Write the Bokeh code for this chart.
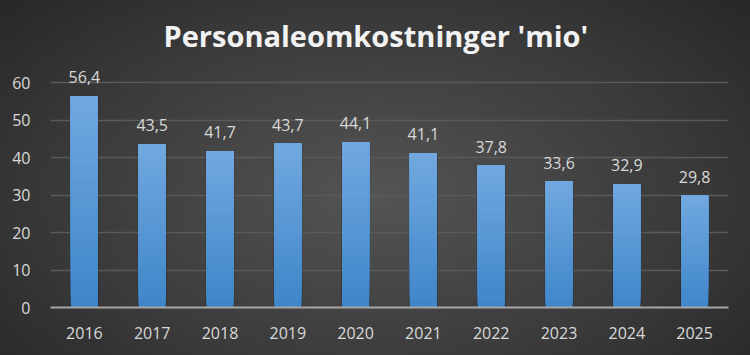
from bokeh.plotting import figure
from bokeh.models import (FactorRange, Range1d, FixedTicker, ColumnDataSource,
                          InlineStyleSheet, LabelSet)
from bokeh.core.properties import value
from bokeh.embed import file_html
from bokeh.resources import INLINE

years = ["2016", "2017", "2018", "2019", "2020", "2021", "2022", "2023", "2024", "2025"]
values = [56.4, 43.5, 41.7, 43.7, 44.1, 41.1, 37.8, 33.6, 32.9, 29.8]
labels = ["56,4", "43,5", "41,7", "43,7", "44,1", "41,1", "37,8", "33,6", "32,9", "29,8"]
y_ticks = [0, 10, 20, 30, 40, 50, 60]

FONT = "Open Sans"
TXT = "#d9d9d9"

css = InlineStyleSheet(css=""":host { background: radial-gradient(ellipse 75% 90% at 50% 55%, #545454 0%, #3a3a3a 55%, #222222 100%); }""")

p = figure(width=750, height=355, x_range=FactorRange(*years), y_range=Range1d(0, 67.5),
           output_backend="svg", toolbar_location=None,
           min_border_left=50, min_border_right=22, min_border_top=54, min_border_bottom=48,
           stylesheets=[css])
p.background_fill_color = None
p.border_fill_color = None
p.outline_line_color = None

# gradient bars: overlapping layers, each drawn from its bottom up to the value
N = 40
top_c = (0x72, 0xa9, 0xe0)
bot_c = (0x3f, 0x86, 0xca)
xs, bots, tops, cols = [], [], [], []
for k in range(N):
    t = (k + 0.5) / N
    r = int(bot_c[0] + (top_c[0] - bot_c[0]) * t)
    g = int(bot_c[1] + (top_c[1] - bot_c[1]) * t)
    b = int(bot_c[2] + (top_c[2] - bot_c[2]) * t)
    c = "#%02x%02x%02x" % (r, g, b)
    for yr, v in zip(years, values):
        xs.append(yr)
        bots.append(v * k / N)
        tops.append(v)
        cols.append(c)
# subtle shadow
p.vbar(x=years, top=values, bottom=0, width=0.43, fill_color="#000000", fill_alpha=0.18,
       line_color=None)
p.vbar(x=xs, bottom=bots, top=tops, width=0.4, fill_color=cols, line_color=None)

src = ColumnDataSource(dict(x=years, y=values, t=labels))
p.add_layout(LabelSet(x="x", y="y", text="t", source=src, text_align="center",
                      text_baseline="bottom", y_offset=13, text_color=TXT,
                      text_font=value(FONT), text_font_size="16px"))

p.yaxis.ticker = FixedTicker(ticks=y_ticks)
p.yaxis.axis_line_color = None
p.yaxis.major_tick_line_color = None
p.yaxis.minor_tick_line_color = None
p.yaxis.major_label_text_color = TXT
p.yaxis.major_label_text_font = FONT
p.yaxis.major_label_text_font_size = "16px"
p.yaxis.major_label_standoff = 14

p.xaxis.axis_line_color = "#a6a6a6"
p.xaxis.axis_line_width = 2
p.xaxis.major_tick_line_color = None
p.xaxis.minor_tick_line_color = None
p.xaxis.major_label_text_color = TXT
p.xaxis.major_label_text_font = FONT
p.xaxis.major_label_text_font_size = "16px"
p.xaxis.major_label_standoff = 13

p.xgrid.grid_line_color = None
p.ygrid.grid_line_color = "#5a5a5a"
p.ygrid.grid_line_width = 1.5

p.title.text = "Personaleomkostninger 'mio'"
p.title.text_font = FONT
p.title.text_font_size = "29px"
p.title.text_font_style = "bold"
p.title.text_color = "#f2f2f2"
p.title.align = "left"
p.title.offset = 113
p.title.standoff = 0

open("out.html", "w").write(file_html(p, INLINE))
